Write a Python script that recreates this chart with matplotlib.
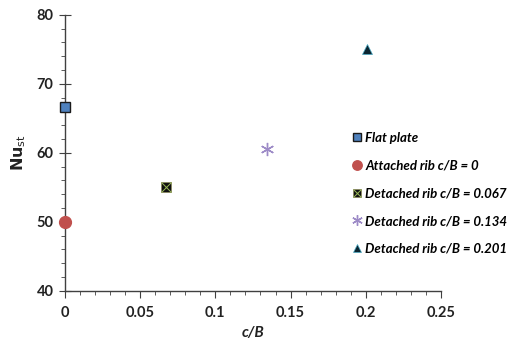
import matplotlib
matplotlib.use("Agg")
import matplotlib.pyplot as plt
from matplotlib.ticker import MultipleLocator
from matplotlib.legend_handler import HandlerTuple

plt.rcParams["font.family"] = ["Lato", "DejaVu Sans"]

# data
labels = ["Flat plate", "Attached rib c/B = 0", "Detached rib c/B = 0.067",
          "Detached rib c/B = 0.134", "Detached rib c/B = 0.201"]
cb = [0.0, 0.0, 0.067, 0.134, 0.201]
nu = [66.6, 50.0, 55.0, 60.6, 75.0]

fig = plt.figure(figsize=(5.1, 3.45), dpi=100)
ax = fig.add_axes([0.127, 0.157, 0.738, 0.800])

h0, = ax.plot(cb[0], nu[0], ls="none", marker="s", ms=7.5, mfc="#4F81BD",
              mec="#1a1a1a", mew=1.0, clip_on=False, zorder=5)
h1, = ax.plot(cb[1], nu[1], ls="none", marker="o", ms=8.5, mfc="#C0504D",
              mec="#C0504D", clip_on=False, zorder=5)
h2a, = ax.plot(cb[2], nu[2], ls="none", marker="s", ms=7.5, mfc="#111111",
               mec="#8A8A60", mew=0.6, zorder=5)
h2b, = ax.plot(cb[2], nu[2], ls="none", marker="x", ms=6.5, mec="#9BBB59",
               mew=0.7, zorder=6)
h3, = ax.plot(cb[3], nu[3], ls="none", marker=(6, 2, 0), ms=9.5,
              mec="#9D8BC7", mew=1.0, zorder=5)
h4, = ax.plot(cb[4], nu[4], ls="none", marker="^", ms=7, mfc="#0B2531",
              mec="#4BACC6", mew=0.5, zorder=5)

ax.set_xlim(0, 0.25)
ax.set_ylim(40, 80)
ax.xaxis.set_minor_locator(MultipleLocator(0.01))
ax.yaxis.set_major_locator(MultipleLocator(10))
ax.yaxis.set_minor_locator(MultipleLocator(2))
ax.set_xticks([0, 0.05, 0.1, 0.15, 0.2, 0.25])
ax.set_xticklabels(["0", "0.05", "0.1", "0.15", "0.2", "0.25"])

for s in ["top", "right"]:
    ax.spines[s].set_visible(False)
for s in ["left", "bottom"]:
    ax.spines[s].set_color("#404040")
    ax.spines[s].set_linewidth(1.0)

ax.tick_params(axis="y", which="major", direction="inout", length=8,
               color="#404040", labelsize=10.5, pad=4)
ax.tick_params(axis="y", which="minor", direction="out", length=3,
               color="#404040")
ax.tick_params(axis="x", which="major", direction="out", length=5,
               color="#404040", labelsize=10.5, pad=6)
ax.tick_params(axis="x", which="minor", direction="out", length=3,
               color="#404040")
for t in ax.get_xticklabels() + ax.get_yticklabels():
    t.set_fontweight("bold")
    t.set_color("#222222")

ax.set_xlabel("c/B", fontsize=11, fontweight="bold", style="italic",
              color="#222222", labelpad=4)
ax.set_ylabel(r"$\mathbf{Nu}_{\mathrm{st}}$", fontsize=11.5, color="#222222",
              labelpad=6)

leg = fig.legend([h0, h1, (h2a, h2b), h3, h4], labels,
                 handler_map={tuple: HandlerTuple(ndivide=1, pad=0)},
                 loc="upper left", bbox_to_anchor=(0.683, 0.634),
                 frameon=False, handlelength=0.55, handletextpad=0.35,
                 labelspacing=1.2, markerscale=0.8, borderaxespad=0,
                 prop={"weight": "bold", "style": "italic", "size": 9.5})

fig.savefig("out.png", dpi=100)
